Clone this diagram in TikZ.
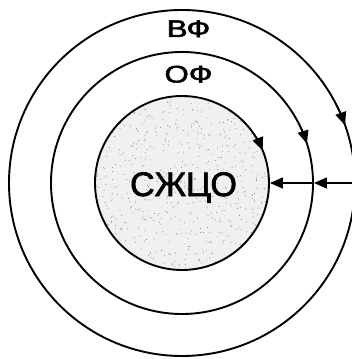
\documentclass[tikz,border=0pt]{standalone}
\usepackage{fontspec}
\setmainfont{Liberation Sans}
\newfontfamily\heavy{Liberation Sans}[FakeBold=2]
\usetikzlibrary{arrows.meta}
\tikzset{
  ring/.style={circle, draw, line width=1.9pt, inner sep=0pt},
  arr/.style={line width=1.5pt, -{Triangle[length=13pt,width=11pt]}},
  lbl/.style={inner sep=0pt, anchor=base},
  widelbl/.style={lbl, xscale=1.3},
}
\begin{document}
\begin{tikzpicture}[x=1pt,y=1pt]
\useasboundingbox (-182,-176) rectangle (170,183);
\clip (-182,-176) rectangle (170,183);
\fill[white] (-182,-176) rectangle (170,183);
\coordinate (o) at (0,0);
% inner filled disc with stipple
\fill[black!6] (o) circle (87);
\begin{scope}
  \clip (o) circle (87);
  \pgfmathsetseed{4}
  \foreach \i in {1,...,700}{
    \pgfmathsetmacro{\rx}{rand*87}
    \pgfmathsetmacro{\ry}{rand*87}
    \fill[black!50] (\rx,\ry) circle (0.5);
  }
\end{scope}
\node[ring, minimum size=174pt] (c1) at (o) {};
\node[ring, minimum size=262pt] (c2) at (o) {};
\node[ring, minimum size=346pt] (c3) at (o) {};
\coordinate (start) at (172,0);
\draw[arr] (start) -- (c2.east);
\draw[arr] (c2.east) -- (c1.east);
\draw[arr] (o) ++(27:173) arc (27:19.5:173);
\draw[arr] (o) ++(26:131) arc (26:17.5:131);
\draw[arr] (o) ++(34:87) arc (34:22:87);
\node[widelbl] (vf) at (6.5,146) {\heavy\fontsize{24}{27}\selectfont ВФ};
\node[widelbl] (of) at (6.5,100.5) {\heavy\fontsize{24}{27}\selectfont ОФ};
\node[lbl] (sz) at (1.5,-13) {\heavy\fontsize{34}{37}\selectfont СЖЦО};
\end{tikzpicture}
\end{document}
